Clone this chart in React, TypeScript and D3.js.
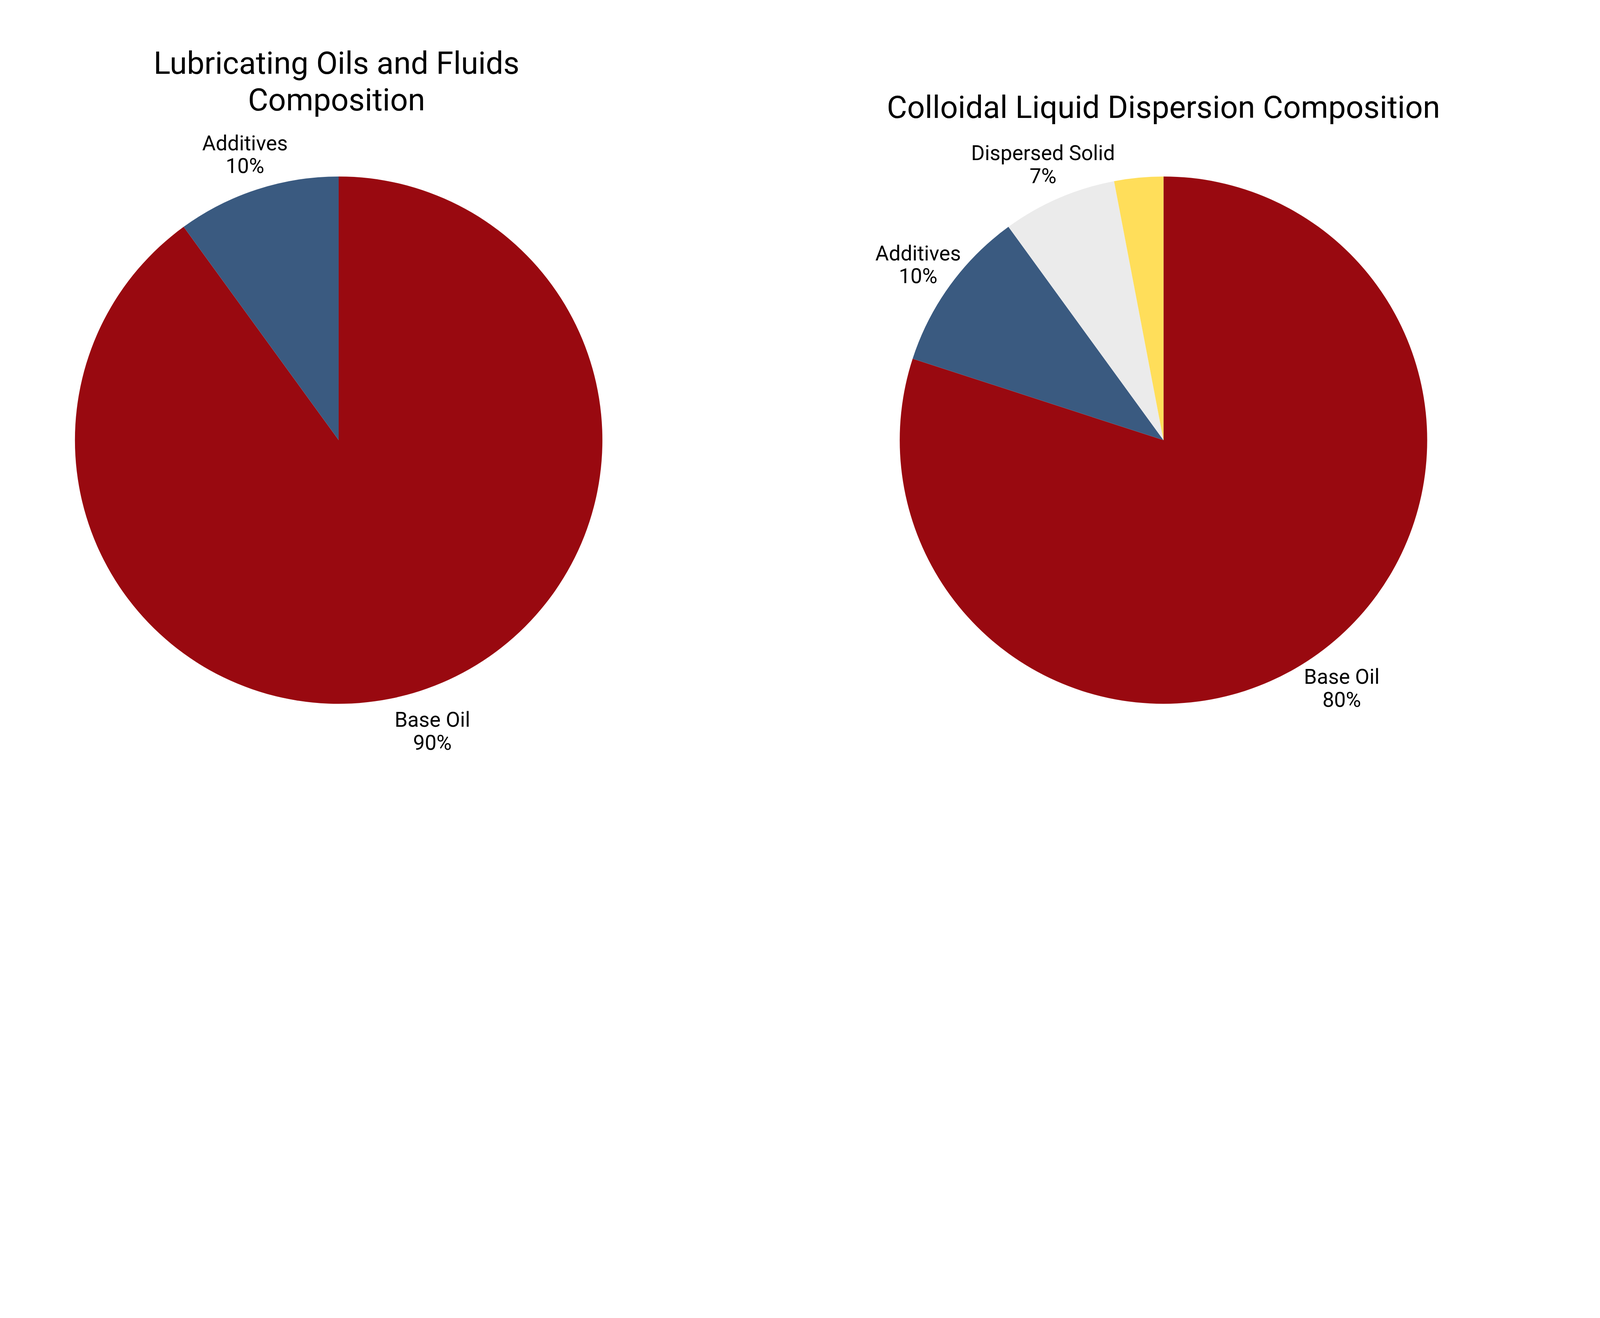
import React, { useEffect, useRef } from 'react';
import * as d3 from 'd3';

// left chart
const lubeLabels = ['Base Oil', 'Additives'];
const lubeValues = [90, 10];

// right chart (the smallest slice carries no label in the original)
const colloidLabels = ['Base Oil', 'Additives', 'Dispersed Solid', 'Other'];
const colloidValues = [80, 10, 7, 3];

const sliceColors = ['#990910', '#3A5A80', '#EBEBEB', '#FFDE5A'];

const titles = [['Lubricating Oils and Fluids', 'Composition'], ['Colloidal Liquid Dispersion Composition']];

const W = 6000;
const H = 3375;

const App = () => {
  const container = useRef(null);

  useEffect(() => {
    document.body.style.margin = '0';
    createChart();
  }, []);

  const createChart = () => {
    const svg = d3
      .select(container.current)
      .selectAll('svg')
      .data([0])
      .join('svg')
      .attr('viewBox', `0 0 ${W} ${H}`)
      .attr('preserveAspectRatio', 'xMinYMin meet')
      .style('width', '100vw')
      .style('height', `${(100 * H) / W}vw`)
      .style('display', 'block')
      .style('background', '#fff')
      .style('font-family', 'Roboto, sans-serif');

    const radius = 989;
    const layout = [
      { x: 1270, y: 1651, tx: 1262, ty: [277, 415] },
      { x: 4363, y: 1651, tx: 4363, ty: [442] }
    ];
    const series = [
      { labels: lubeLabels, values: lubeValues },
      { labels: colloidLabels, values: colloidValues }
    ];

    const pie = d3
      .pie<number>()
      .sort(null)
      .value(d => d);

    const arc = d3
      .arc<d3.PieArcDatum<number>>()
      .innerRadius(0)
      .outerRadius(radius);

    const labelArc = d3
      .arc<d3.PieArcDatum<number>>()
      .innerRadius(radius * 1.15)
      .outerRadius(radius * 1.15);

    series.forEach((s, ci) => {
      const pos = layout[ci];
      const total = d3.sum(s.values);
      const g = svg
        .selectAll('.pieg' + ci)
        .data([0])
        .join('g')
        .attr('class', 'pieg' + ci)
        .attr('transform', `translate(${pos.x},${pos.y})`);

      const arcs = pie(s.values);

      g.selectAll('.slice')
        .data(arcs)
        .join('path')
        .attr('class', 'slice')
        .attr('d', arc)
        .style('fill', (d, i) => sliceColors[i])
        .style('stroke', 'none');

      // labels only for slices of 5% and more
      const lab = g
        .selectAll('.slice-label')
        .data(arcs.filter(d => (d.value / total) * 100 >= 5))
        .join('text')
        .attr('class', 'slice-label')
        .attr('text-anchor', 'middle')
        .style('font-size', '78px')
        .style('fill', '#000')
        .attr('transform', d => {
          const [x, y] = labelArc.centroid(d);
          return `translate(${x},${y + 8})`;
        });

      lab
        .selectAll('tspan')
        .data(d => [s.labels[d.index], Math.round((d.value / total) * 100) + '%'])
        .join('tspan')
        .attr('x', 0)
        .attr('y', (d, i) => (i === 0 ? -14 : 72))
        .text(d => d);

      svg
        .selectAll('.title' + ci)
        .data([0])
        .join('text')
        .attr('class', 'title' + ci)
        .attr('text-anchor', 'middle')
        .style('font-size', '117px')
        .style('fill', '#000')
        .selectAll('tspan')
        .data(titles[ci])
        .join('tspan')
        .attr('x', pos.tx)
        .attr('y', (d, i) => pos.ty[i])
        .text(d => d);
    });
  };

  return <div className="pie-container chart-container" ref={container}></div>;
};

export default App;
